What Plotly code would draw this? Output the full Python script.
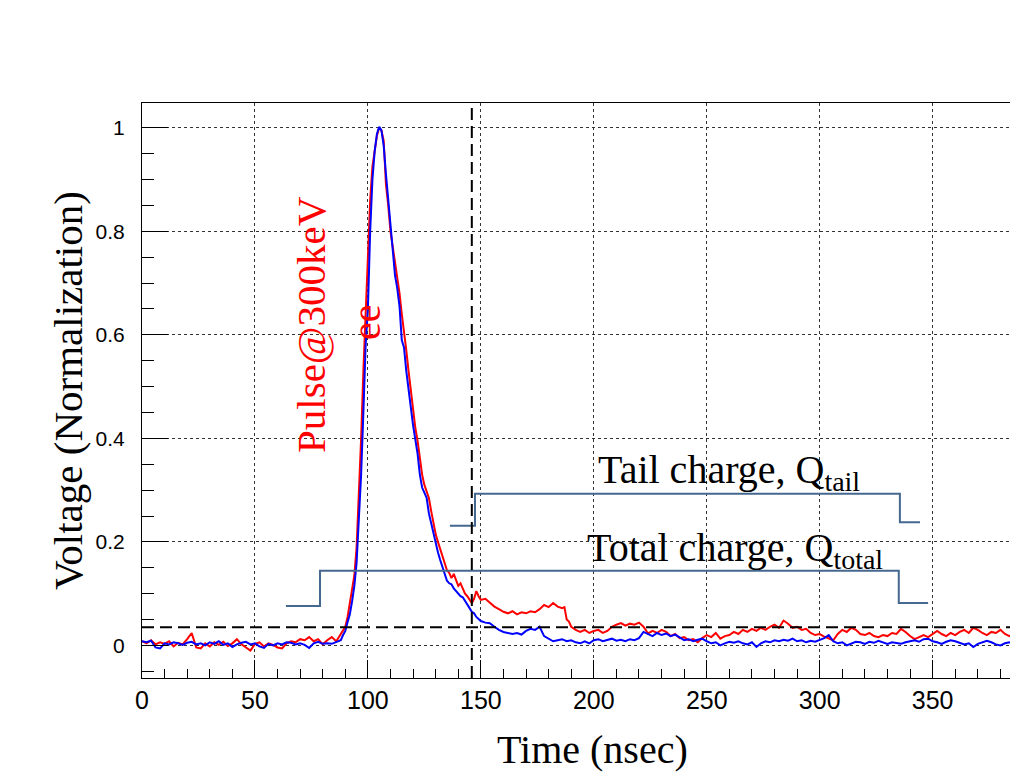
import plotly.graph_objects as go

# ---------------- data ----------------
time_red = [0, 2, 4, 6, 8, 10, 12, 14, 16, 18, 20, 22, 24, 26, 28, 30, 32, 34, 36, 38, 40, 42, 44, 46, 48,
            50, 52, 54, 56, 58, 60, 62, 64, 66, 68, 70, 72, 74, 76, 78, 80, 82, 84, 86, 88,
            89, 90, 91, 92, 93, 94, 95, 96, 97, 98, 99, 100, 101, 102, 103, 104, 105, 106, 107, 108, 109,
            110, 111, 112, 113, 114, 115, 116, 117, 118, 119, 120, 121, 122, 123, 124, 125, 126, 127, 128, 129,
            130, 131, 132, 133, 134, 135, 136, 137, 138, 139, 140, 141, 142, 143, 144, 145, 146, 147, 148, 149,
            150, 152, 154, 156, 158, 160, 162, 164, 166, 168, 170, 172, 174, 176, 178, 180, 182, 184, 186, 187,
            188, 189, 190, 192, 194, 196, 198, 200, 202, 204, 206, 208, 210, 212, 214, 216, 218, 220, 222, 224,
            226, 228, 230, 232, 234, 236, 238, 240, 242, 244, 246, 248, 250, 252, 254, 256, 258, 260, 262, 264,
            266, 268, 270, 272, 274, 276, 278, 280, 282, 284, 286, 288, 290, 292, 294, 296, 298, 300, 302, 304,
            306, 308, 310, 312, 314, 316, 318, 320, 322, 324, 326, 328, 330, 332, 334, 336, 338, 340, 342, 344,
            346, 348, 350, 352, 354, 356, 358, 360, 362, 364, 366, 368, 370, 372, 374, 376, 378, 380, 382, 384,
            386, 388]
volt_red = [0.008, 0.004, 0.010, 0.002, 0.006, 0.003, 0.008, -0.002, 0.005, 0.002, 0.012, 0.024, -0.004, -0.006, 0.004,
            -0.002, 0.006, 0.001, 0.007, -0.001, 0.004, 0.012, 0.002, -0.004, -0.010,
            0.003, 0.006, -0.002, 0.004, 0.001, -0.004, -0.006, 0.004, 0.008, 0.006, 0.012, 0.010, 0.016, 0.008, 0.012,
            0.002, 0.010, 0.016, 0.008, 0.022,
            0.030, 0.036, 0.055, 0.080, 0.105, 0.135, 0.190, 0.290, 0.400, 0.530, 0.640, 0.740, 0.860, 0.925, 0.955,
            0.985, 1.000, 0.995, 0.975, 0.890, 0.850,
            0.800, 0.770, 0.740, 0.700, 0.680, 0.640, 0.610, 0.570, 0.530, 0.490, 0.450, 0.420, 0.395, 0.360, 0.330,
            0.310, 0.295, 0.285, 0.260, 0.235,
            0.215, 0.200, 0.185, 0.170, 0.155, 0.145, 0.140, 0.130, 0.138, 0.125, 0.115, 0.120, 0.110, 0.100, 0.095,
            0.088, 0.082, 0.090, 0.105, 0.095,
            0.088, 0.090, 0.082, 0.075, 0.070, 0.065, 0.062, 0.066, 0.060, 0.064, 0.062, 0.066, 0.064, 0.070, 0.078,
            0.074, 0.082, 0.075, 0.072, 0.074,
            0.050, 0.046, 0.036, 0.030, 0.026, 0.030, 0.024, 0.028, 0.030, 0.024, 0.028, 0.036, 0.040, 0.043, 0.038,
            0.042, 0.040, 0.044, 0.036, 0.023,
            0.028, 0.024, 0.030, 0.026, 0.018, 0.022, 0.014, 0.016, 0.010, 0.012, 0.006, 0.014, 0.020, 0.016, 0.024,
            0.013, 0.018, 0.020, 0.026, 0.022,
            0.030, 0.026, 0.032, 0.028, 0.034, 0.030, 0.036, 0.040, 0.034, 0.048, 0.042, 0.034, 0.036, 0.030, 0.032,
            0.024, 0.020, 0.022, 0.017, 0.014,
            0.010, 0.022, 0.030, 0.026, 0.034, 0.030, 0.022, 0.020, 0.024, 0.018, 0.016, 0.020, 0.018, 0.024, 0.022,
            0.032, 0.026, 0.018, 0.012, 0.016,
            0.020, 0.016, 0.022, 0.028, 0.022, 0.018, 0.024, 0.020, 0.026, 0.030, 0.024, 0.034, 0.030, 0.024, 0.020,
            0.026, 0.024, 0.030, 0.022, 0.018,
            0.022, 0.012]

time_blue = [0, 2, 4, 6, 8, 10, 12, 14, 16, 18, 20, 22, 24, 26, 28, 30, 32, 34, 36, 38, 40, 42, 44, 46, 48,
             50, 52, 54, 56, 58, 60, 62, 64, 66, 68, 70, 72, 74, 76, 78, 80, 82, 84, 86, 88,
             89, 90, 91, 92, 93, 94, 95, 96, 97, 98, 99, 100, 101, 102, 103, 104, 105, 106, 107, 108, 109,
             110, 111, 112, 113, 114, 115, 116, 117, 118, 119, 120, 121, 122, 123, 124, 125, 126, 127, 128, 129,
             130, 131, 132, 133, 134, 135, 136, 137, 138, 139, 140, 141, 142, 143, 144, 145, 146, 147, 148, 149,
             150, 152, 154, 156, 158, 160, 162, 164, 166, 168, 170, 172, 174, 176, 178, 180, 182, 184, 186, 188,
             190, 192, 194, 196, 198, 200, 202, 204, 206, 208, 210, 212, 214, 216, 218, 220, 222, 224, 226, 228,
             230, 232, 234, 236, 238, 240, 242, 244, 246, 248, 250, 252, 254, 256, 258, 260, 262, 264, 266, 268,
             270, 272, 274, 276, 278, 280, 282, 284, 286, 288, 290, 292, 294, 296, 298, 300, 302, 304, 306, 308,
             310, 312, 314, 316, 318, 320, 322, 324, 326, 328, 330, 332, 334, 336, 338, 340, 342, 344, 346, 348,
             350, 352, 354, 356, 358, 360, 362, 364, 366, 368, 370, 372, 374, 376, 378, 380, 382, 384, 386, 388]
volt_blue = [0.008, 0.006, 0.009, -0.004, -0.006, 0.004, 0.002, 0.006, 0.004, 0.001, 0.005, 0.007, 0.002, 0.004, 0.000,
             0.006, 0.003, 0.008, 0.001, 0.004, -0.003, 0.002, 0.005, 0.007, 0.002,
             0.004, -0.002, -0.005, 0.003, 0.000, 0.004, 0.002, 0.006, 0.005, 0.002, 0.004, 0.001, -0.005, 0.004, 0.007,
             0.003, 0.004, 0.003, 0.006, 0.010,
             0.020, 0.028, 0.045, 0.060, 0.085, 0.115, 0.160, 0.240, 0.330, 0.450, 0.580, 0.650, 0.800, 0.900, 0.955,
             0.988, 1.002, 0.995, 0.965, 0.910, 0.865,
             0.815, 0.765, 0.715, 0.690, 0.655, 0.590, 0.575, 0.530, 0.490, 0.460, 0.425, 0.400, 0.370, 0.330, 0.305,
             0.295, 0.285, 0.255, 0.235, 0.215,
             0.200, 0.180, 0.165, 0.150, 0.140, 0.125, 0.120, 0.118, 0.110, 0.105, 0.100, 0.095, 0.093, 0.085, 0.078,
             0.072, 0.065, 0.062, 0.055, 0.050,
             0.047, 0.044, 0.043, 0.036, 0.030, 0.026, 0.024, 0.022, 0.024, 0.021, 0.028, 0.032, 0.030, 0.036, 0.018,
             0.013, 0.008, 0.010, 0.012, 0.008,
             0.010, 0.006, 0.004, 0.008, 0.004, 0.010, 0.012, 0.008, 0.010, 0.013, 0.009, 0.011, 0.008, 0.012, 0.010,
             0.014, 0.026, 0.022, 0.018, 0.024,
             0.020, 0.023, 0.018, 0.021, 0.016, 0.010, 0.012, 0.008, 0.011, 0.013, 0.008, 0.004, 0.006, 0.000, 0.004,
             0.007, 0.005, 0.008, 0.004, 0.002,
             0.006, -0.003, 0.004, 0.008, 0.006, 0.010, 0.008, 0.011, 0.009, 0.013, 0.008, 0.010, 0.006, 0.009, 0.007,
             0.010, 0.014, 0.020, 0.008, 0.004,
             0.006, 0.000, 0.004, 0.007, 0.006, 0.003, 0.007, 0.005, 0.009, 0.006, 0.003, 0.006, 0.004, 0.003, 0.006,
             0.008, 0.010, 0.007, 0.012, 0.013,
             0.008, 0.006, 0.003, 0.007, 0.010, 0.008, 0.005, 0.002, 0.004, -0.003, 0.003, 0.006, 0.009, 0.006, 0.002,
             0.000, 0.004, 0.006, 0.003, 0.007]

# integration windows (step outlines)
total_win_x = [63.7, 78.8, 335.0, 348.0]
total_win_y = [0.076, 0.144, 0.082, 0.082]
tail_win_x = [136.3, 147.4, 335.5, 344.4]
tail_win_y = [0.231, 0.293, 0.238, 0.238]

threshold_y = 0.035
tail_start_x = 146.0

x_ticks = [0, 50, 100, 150, 200, 250, 300, 350]
y_ticks = [0, 0.2, 0.4, 0.6, 0.8, 1]
y_range = [-0.063, 1.048]

# ---------------- figure ----------------
# the page body has an 8px margin on every side; the figure is sized to fit inside it
OFF = 8
W, H = 1018 - 2 * OFF, 782 - 2 * OFF
PL, PT, PR, PB = 142, 103, 1010, 678          # plot area in page pixels
X_SCALE = 2.259                               # px per nsec in the reference
x_range = [0, (PR - PL) / X_SCALE]
L, T = PL - OFF, PT - OFF
R, B = W - (PR - OFF), H - (PB - OFF)
pw, ph = PR - PL, PB - PT


def px(xp):
    return (xp - PL) / pw


def py(yp):
    return (PB - yp) / ph


win_color = "#456890"
fig = go.Figure()
fig.add_trace(go.Scatter(x=time_red, y=volt_red, mode="lines",
                         line=dict(color="#ff0000", width=2), showlegend=False))
fig.add_trace(go.Scatter(x=time_blue, y=volt_blue, mode="lines",
                         line=dict(color="#0000ff", width=2), showlegend=False))
fig.add_trace(go.Scatter(x=total_win_x, y=total_win_y, mode="lines",
                         line=dict(color=win_color, width=2, shape="hv"), showlegend=False))
fig.add_trace(go.Scatter(x=tail_win_x, y=tail_win_y, mode="lines",
                         line=dict(color=win_color, width=2, shape="hv"), showlegend=False))

fig.add_hline(y=threshold_y, line=dict(color="black", width=2, dash="12px,6px"))
fig.add_vline(x=tail_start_x, line=dict(color="black", width=2, dash="12px,6px"))

serif = "Liberation Serif, Times New Roman, serif"
sans = "Liberation Sans, Arial, sans-serif"

annotations = [
    dict(text="Voltage (Normalization)", x=px(68), y=py(391), textangle=-90,
         font=dict(family=serif, size=41, color="black")),
    dict(text="Time (nsec)", x=px(592), y=py(750),
         font=dict(family=serif, size=40, color="black")),
    dict(text="Tail charge, Q<sub>tail</sub>", x=px(596), y=py(472), xanchor="left",
         font=dict(family=serif, size=40, color="black")),
    dict(text="Total charge, Q<sub>total</sub>", x=px(585), y=py(550), xanchor="left",
         font=dict(family=serif, size=40, color="black")),
    dict(text="Pulse@300keV", x=px(311), y=py(325), textangle=-90,
         font=dict(family=serif, size=41, color="#ff0000")),
    dict(text="ee", x=px(366), y=py(322), textangle=-90,
         font=dict(family=serif, size=40, color="#ff0000")),
]
for a in annotations:
    a.update(xref="paper", yref="paper", showarrow=False)
    a.setdefault("xanchor", "center")
    a.setdefault("yanchor", "middle")

fig.update_layout(
    width=W, height=H,
    margin=dict(l=L, r=R, t=T, b=B, autoexpand=False),
    paper_bgcolor="white", plot_bgcolor="white",
    annotations=annotations,
    showlegend=False,
)
fig.update_xaxes(
    range=x_range, tickvals=x_ticks, ticktext=[str(v) for v in x_ticks],
    ticks="inside", ticklen=18, tickcolor="black", tickwidth=1,
    showline=True, linecolor="black", linewidth=1, mirror=True,
    showgrid=True, gridcolor="#333333", griddash="dot", gridwidth=1,
    zeroline=False, automargin=False,
    tickfont=dict(family=sans, size=25, color="black"),
    minor=dict(dtick=10, tick0=0, ticks="inside", ticklen=9, tickcolor="black", showgrid=False),
)
fig.update_yaxes(
    range=y_range, tickvals=y_ticks, ticktext=["0", "0.2", "0.4", "0.6", "0.8", "1"],
    ticks="inside", ticklen=26, tickcolor="black", tickwidth=1,
    showline=True, linecolor="black", linewidth=1, mirror=True,
    showgrid=True, gridcolor="#333333", griddash="dot", gridwidth=1,
    zeroline=False, ticklabelstandoff=12, automargin=False,
    tickfont=dict(family=sans, size=21, color="black"),
    minor=dict(dtick=0.05, tick0=0, ticks="inside", ticklen=12, tickcolor="black", showgrid=False),
)

fig.write_html("out.html")
